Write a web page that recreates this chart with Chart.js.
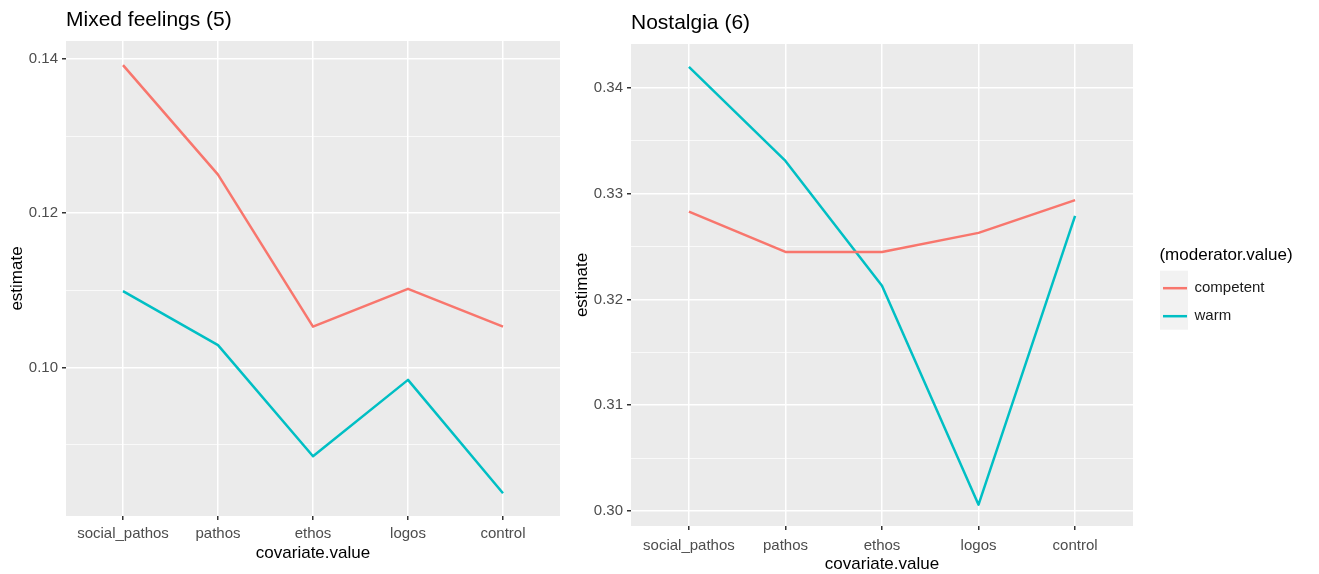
<!DOCTYPE html>
<html>
<head>
<meta charset="utf-8">
<script src="https://cdn.jsdelivr.net/npm/chart.js@4"></script>
<style>
  body { margin: 0; background: #fff; }
  canvas { position: absolute; top: 0; }
</style>
</head>
<body>
<canvas id="mixedChart" width="565" height="574" style="left:0px"></canvas>
<canvas id="nostalgiaChart" width="754" height="574" style="left:565px"></canvas>
<script>
// values
const categories = ['social_pathos', 'pathos', 'ethos', 'logos', 'control'];
const seriesNames = ['competent', 'warm'];

const mixedCompetent = [0.1392, 0.1250, 0.1053, 0.1102, 0.1053];
const mixedWarm = [0.1099, 0.1029, 0.0885, 0.0984, 0.0837];
const mixedMajorTicks = [0.10, 0.12, 0.14];
const mixedMinorTicks = [0.09, 0.11, 0.13];

const nostalgiaCompetent = [0.3283, 0.3245, 0.3245, 0.3263, 0.3294];
const nostalgiaWarm = [0.3420, 0.3331, 0.3213, 0.3006, 0.3279];
const nostalgiaMajorTicks = [0.30, 0.31, 0.32, 0.33, 0.34];
const nostalgiaMinorTicks = [0.305, 0.315, 0.325, 0.335];

const colors = ['#F8766D', '#00BFC4'];
const FONT = "'Liberation Sans', Arial, sans-serif";

Chart.defaults.font.family = FONT;
Chart.defaults.animation = false;

// grey ggplot panel + grey legend keys
const panelBg = {
    id: 'panelBg',
    beforeDraw(chart) {
        const ctx = chart.ctx;
        const a = chart.chartArea;
        ctx.save();
        ctx.fillStyle = '#EBEBEB';
        ctx.fillRect(a.left, a.top, a.right - a.left, a.bottom - a.top);
        const lg = chart.legend;
        if (lg && lg.options.display && lg.legendHitBoxes && lg.legendHitBoxes.length) {
            const hb = lg.legendHitBoxes;
            const first = hb[0];
            const last = hb[hb.length - 1];
            ctx.fillStyle = '#F2F2F2';
            ctx.fillRect(first.left - 3, first.top - 10, 28, last.top + last.height + 6 - (first.top - 10));
        }
        ctx.restore();
    }
};

// legend box is sized from its items only, widen it so the title is not clipped
const LEGEND_WIDTH = 160;
const legendWidth = {
    id: 'legendWidth',
    afterInit(chart) {
        const lg = chart.legend;
        if (!lg) return;
        const origFit = lg.fit.bind(lg);
        lg.fit = function () {
            origFit();
            if (this.options.display) this.width = LEGEND_WIDTH;
        };
    }
};

function isIn(list, v) {
    return list.some(m => Math.abs(m - v) < 1e-9);
}

function makeDatasets(competent, warm) {
    return [competent, warm].map((vals, k) => ({
        label: seriesNames[k],
        data: categories.map((c, i) => ({ x: i, y: vals[i] })),
        borderColor: colors[k],
        backgroundColor: colors[k],
        borderWidth: 2.5,
        pointRadius: 0,
        tension: 0,
        borderJoinStyle: 'round'
    }));
}

function xScale(height, labelPad, titlePad) {
    return {
        type: 'linear',
        min: -0.6,
        max: 4.6,
        afterBuildTicks: s => { s.ticks = categories.map((c, i) => ({ value: i })); },
        afterFit: s => { s.height = height; },
        ticks: {
            callback: v => categories[v],
            color: '#4D4D4D',
            font: { size: 15 },
            padding: labelPad,
            maxRotation: 0,
            autoSkip: false
        },
        grid: { color: '#FFFFFF', lineWidth: 1.5, tickColor: '#333333', tickLength: 4 },
        border: { display: false },
        title: {
            display: true,
            text: 'covariate.value',
            color: '#000',
            font: { size: 17 },
            padding: { top: 0, bottom: titlePad }
        }
    };
}

function yScale(min, max, majors, minors) {
    return {
        type: 'linear',
        min: min,
        max: max,
        afterBuildTicks: s => {
            s.ticks = majors.concat(minors).sort((a, b) => a - b).map(v => ({ value: v }));
        },
        afterFit: s => { s.width = 66; },
        ticks: {
            callback: v => isIn(majors, v) ? v.toFixed(2) : '',
            color: '#4D4D4D',
            font: { size: 15 },
            padding: 4
        },
        grid: {
            color: '#FFFFFF',
            lineWidth: c => isIn(majors, c.tick.value) ? 1.5 : 0.7,
            tickColor: c => isIn(majors, c.tick.value) ? '#333333' : 'rgba(0,0,0,0)',
            tickLength: 4
        },
        border: { display: false },
        title: {
            display: true,
            text: 'estimate',
            color: '#000',
            font: { size: 17 },
            padding: { top: 6.8, bottom: 0 }
        }
    };
}

function chartTitle(text, padTop, padBottom) {
    return {
        display: true,
        text: text,
        align: 'start',
        fullSize: false,
        color: '#000',
        font: { size: 21, weight: 'normal' },
        padding: { top: padTop, bottom: padBottom }
    };
}

new Chart(document.getElementById('mixedChart'), {
    type: 'line',
    data: { datasets: makeDatasets(mixedCompetent, mixedWarm) },
    options: {
        responsive: false,
        layout: { padding: { left: 0, right: 5, top: 0, bottom: 0 } },
        scales: {
            x: xScale(58, 4.5, 10.8),
            y: yScale(0.08075, 0.14233, mixedMajorTicks, mixedMinorTicks)
        },
        plugins: {
            title: chartTitle('Mixed feelings (5)', 8, 7.8),
            legend: { display: false },
            tooltip: { enabled: false }
        }
    },
    plugins: [panelBg]
});

new Chart(document.getElementById('nostalgiaChart'), {
    type: 'line',
    data: { datasets: makeDatasets(nostalgiaCompetent, nostalgiaWarm) },
    options: {
        responsive: false,
        layout: { padding: { left: 0, right: 9, top: 8, bottom: 0 } },
        scales: {
            x: xScale(48, 6.5, -1),
            y: yScale(0.29858, 0.34416, nostalgiaMajorTicks, nostalgiaMinorTicks),
            // empty spacer between panel and legend
            gap: {
                type: 'linear',
                position: 'right',
                display: true,
                afterFit: s => { s.width = 17; },
                ticks: { display: false },
                grid: { display: false, drawTicks: false },
                border: { display: false }
            }
        },
        plugins: {
            title: chartTitle('Nostalgia (6)', 3, 7.8),
            legend: {
                position: 'right',
                align: 'center',
                title: {
                    display: true,
                    text: '  (moderator.value)',
                    position: 'start',
                    color: '#000',
                    font: { size: 17 },
                    padding: { top: 2, bottom: 0 }
                },
                labels: {
                    usePointStyle: true,
                    pointStyle: 'line',
                    pointStyleWidth: 24,
                    boxHeight: 15,
                    padding: 13,
                    color: '#1A1A1A',
                    font: { size: 15 }
                }
            },
            tooltip: { enabled: false }
        }
    },
    plugins: [panelBg, legendWidth]
});
</script>
</body>
</html>
